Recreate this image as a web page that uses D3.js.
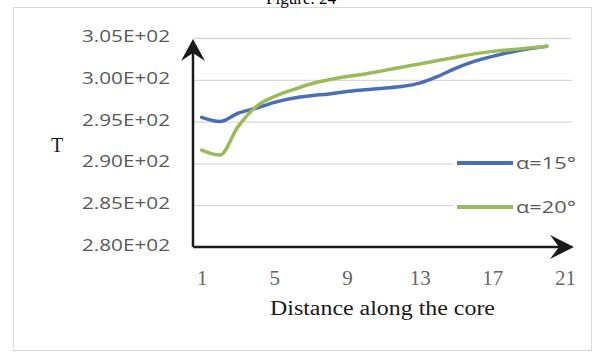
<!DOCTYPE html>
<html><head><meta charset="utf-8">
<script src="https://cdn.jsdelivr.net/npm/d3@7/dist/d3.min.js"></script>
<style>
html,body{margin:0;padding:0;background:#fff;}
svg{display:block;}
</style></head>
<body>
<svg id="c" width="603" height="358"></svg>
<script>
const distance = [1,2,3,4,5,6,7,8,9,10,11,12,13,14,15,16,17,18,19,20];
const alpha15 = [295.5,295.0,296.0,296.6,297.3,297.8,298.1,298.3,298.6,298.8,299.0,299.2,299.6,300.4,301.4,302.2,302.8,303.3,303.7,304.0];
const alpha20 = [291.6,291.0,294.4,296.8,298.0,298.8,299.5,300.0,300.4,300.7,301.1,301.5,301.9,302.3,302.7,303.1,303.4,303.6,303.8,304.0];
const seriesNames = ["\u03b1=15\u00b0","\u03b1=20\u00b0"];
const yTicks = [280,285,290,295,300,305];
const xTicks = [1,5,9,13,17,21];
const title = "Figure. 24";
const xTitle = "Distance along the core";
const yTitle = "T";

const colors = ["#4a6fb5","#9bbb59"];
const svg = d3.select("#c");

// outer frame
svg.append("rect").attr("x",13.5).attr("y",7.5).attr("width",578).attr("height",343)
  .attr("fill","#fff").attr("stroke","#d9d9d9").attr("stroke-width",1);

svg.append("text").attr("x",301).attr("y",4).attr("text-anchor","middle")
  .attr("font-family","Liberation Serif").attr("font-size",17).attr("fill","#000").text(title);

const x = d3.scaleLinear().domain([1,21]).range([201.7,565]);
const y = d3.scaleLinear().domain([280,305]).range([247,38]);
const axisX = 193, gridRight = 572;

// gridlines
svg.append("g").selectAll("line").data(yTicks.slice(1)).join("line")
  .attr("x1",axisX).attr("x2",gridRight).attr("y1",d=>y(d)+0.5).attr("y2",d=>y(d)+0.5)
  .attr("stroke","#d9d9d9").attr("stroke-width",1.3);

// y tick labels
const yAxis = d3.axisLeft(y).tickValues(yTicks).tickSize(0).tickPadding(0)
  .tickFormat(d=>{const s=d3.format(".2e")(d); const [m,e]=s.split("e"); const n=+e; return m+"E"+(n<0?"-":"+")+String(Math.abs(n)).padStart(2,"0");});
const ya = svg.append("g").attr("transform","translate(170,-2)").call(yAxis);
ya.select(".domain").remove();
ya.selectAll("text").attr("font-family","Open Sans").attr("font-size",17).attr("fill","#595959")
  .attr("textLength",88).attr("lengthAdjust","spacingAndGlyphs");

// x tick labels
const xAxis = d3.axisBottom(x).tickValues(xTicks).tickSize(0).tickPadding(0).tickFormat(d3.format("d"));
const xa = svg.append("g").attr("transform","translate(0,270)").call(xAxis);
xa.select(".domain").remove();
xa.selectAll("text").attr("font-family","Liberation Serif").attr("font-size",21).attr("fill","#666");

// titles
svg.append("text").attr("x",382.5).attr("y",315).attr("text-anchor","middle")
  .attr("font-family","Liberation Serif").attr("font-size",20).attr("fill","#1a1a1a")
  .attr("textLength",225).attr("lengthAdjust","spacingAndGlyphs").text(xTitle);
svg.append("text").attr("x",57).attr("y",152).attr("text-anchor","middle")
  .attr("font-family","Liberation Serif").attr("font-size",20).attr("fill","#1a1a1a").text(yTitle);

// lines
const line = d3.line().x((d,i)=>x(distance[i])).y(d=>y(d)).curve(d3.curveMonotoneX);
[alpha15, alpha20].forEach((s,k)=>{
  svg.append("path").datum(s).attr("d",line).attr("fill","none")
    .attr("stroke",colors[k]).attr("stroke-width",3.5).attr("stroke-linecap","round").attr("stroke-linejoin","round");
});

// legend
const lg = svg.append("g");
lg.append("rect").attr("x",453).attr("y",150).attr("width",119).attr("height",70).attr("fill","#fff");
seriesNames.forEach((n,k)=>{
  const ly = [163,207][k];
  lg.append("line").attr("x1",457).attr("x2",513).attr("y1",ly).attr("y2",ly)
    .attr("stroke",colors[k]).attr("stroke-width",4);
  lg.append("text").attr("x",516).attr("y",ly+6).attr("font-family","Open Sans").attr("font-size",17)
    .attr("fill","#595959").attr("textLength",60).attr("lengthAdjust","spacingAndGlyphs").text(n);
});

// axes with arrows
const ax = svg.append("g").attr("stroke","#1a1a1a").attr("fill","#1a1a1a");
ax.append("line").attr("x1",axisX).attr("x2",axisX).attr("y1",y(280)).attr("y2",y(305)+8).attr("stroke-width",2.5);
ax.append("line").attr("x1",axisX).attr("x2",x(21)-4).attr("y1",y(280)).attr("y2",y(280)).attr("stroke-width",2.5);
// arrow heads
const tipY = y(305)+1;
ax.append("path").attr("d",`M${axisX},${tipY} L${axisX+12},${tipY+22} L${axisX},${tipY+14} L${axisX-12},${tipY+22} Z`).attr("stroke","none");
const tipX = 574, yb=y(280);
ax.append("path").attr("d",`M${tipX},${yb} L${tipX-24},${yb-12} L${tipX-15},${yb} L${tipX-24},${yb+12} Z`).attr("stroke","none");
</script>
</body></html>
